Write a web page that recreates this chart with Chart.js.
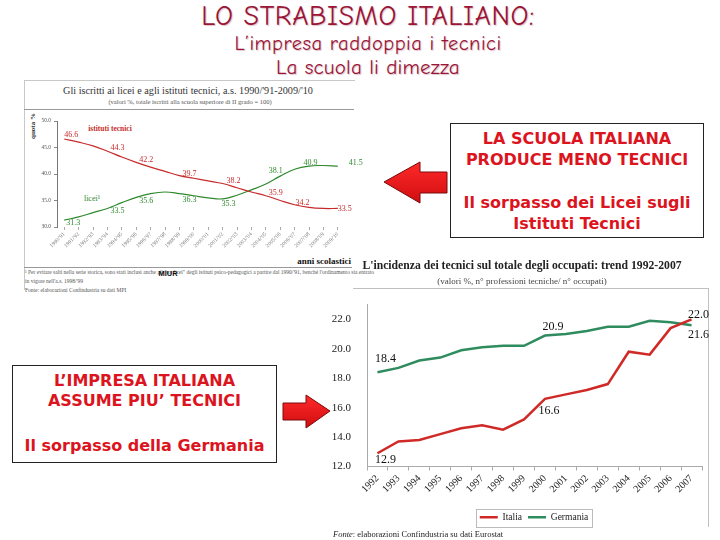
<!DOCTYPE html>
<html><head><meta charset="utf-8">
<script src="https://cdn.jsdelivr.net/npm/chart.js@4.4.1/dist/chart.umd.min.js"></script>
<style>
html,body{margin:0;padding:0;background:#fff;}
body{width:720px;height:540px;position:relative;overflow:hidden;font-family:"Liberation Serif",serif;}
.abs{position:absolute;white-space:nowrap;}
.ttl{font-family:"Comic Sans MS","Comic Neue","Lato",sans-serif;color:#9a1538;left:0;width:736px;text-align:center;text-shadow:1px 1px 1px rgba(120,20,40,0.25);}
.box{position:absolute;border:1px solid #222;background:#fff;}
.bt{position:absolute;left:0;right:0;text-align:center;font-family:"DejaVu Sans",sans-serif;font-weight:bold;color:#dc1420;font-size:16px;line-height:20px;}
.c{transform:translate(-50%,-50%);}
</style></head>
<body>
<div class="abs ttl" style="top:0px;font-size:28px;letter-spacing:0.6px;">LO STRABISMO ITALIANO:</div>
<div class="abs ttl" style="top:32px;font-size:20.5px;letter-spacing:0.5px;">L’impresa raddoppia i tecnici</div>
<div class="abs ttl" style="top:55px;font-size:21px;letter-spacing:0.2px;">La scuola li dimezza</div>

<!-- left chart frame & texts -->
<div class="abs" style="left:24px;top:80px;width:331px;height:1px;background:#c8c8c8;"></div>
<div class="abs" style="left:24px;top:80px;width:1px;height:210px;background:#c8c8c8;"></div>
<div class="abs c" style="left:188px;top:90px;font-size:10.2px;color:#333;">Gli iscritti ai licei e agli istituti tecnici, a.s. 1990/'91-2009/'10</div>
<div class="abs c" style="left:190px;top:101px;font-size:6.5px;color:#555;">(valori %, totale iscritti alla scuola superiore di II grado = 100)</div>
<div class="abs" style="left:24px;top:109px;width:330px;height:1px;background:#999;"></div>
<div class="abs c" style="left:33px;top:126px;font-size:7px;font-weight:bold;color:#333;transform:translate(-50%,-50%) rotate(-90deg);">quota %</div>
<div class="abs c" style="left:110px;top:128px;font-size:7.5px;font-weight:bold;color:#c62b2b;">istituti tecnici</div>
<div class="abs c" style="left:92px;top:198px;font-size:8px;color:#2f8a2f;">licei¹</div>
<div class="abs" style="right:369px;top:256px;font-size:9px;font-weight:bold;color:#111;">anni scolastici</div>
<div class="abs" style="left:24px;top:267px;width:328px;height:1px;background:#999;"></div>
<div class="abs" style="left:25px;top:268px;font-size:5.5px;color:#555;line-height:9px;">¹ Per evitare salti nella serie storica, sono stati inclusi anche gli "ex licei" degli istituti psico-pedagogici a partire dal 1990/'91, benché l'ordinamento sia entrato<br>in vigore nell'a.s. 1998/'99<br>Fonte: elaborazioni Confindustria su dati MPI</div>
<div class="abs c" style="left:168px;top:273px;font-size:7.5px;font-weight:bold;color:#111;font-family:'Liberation Sans',sans-serif;">MIUR</div>
<canvas id="cl" class="abs" width="345" height="165" style="left:24px;top:110px;"></canvas>

<!-- top-right box -->
<div class="box" style="left:450px;top:123px;width:252px;height:113px;">
  <div class="bt" style="top:5px;">LA SCUOLA ITALIANA</div>
  <div class="bt" style="top:26px;">PRODUCE MENO TECNICI</div>
  <div class="bt" style="top:69px;">Il sorpasso dei Licei sugli</div>
  <div class="bt" style="top:90px;">Istituti Tecnici</div>
</div>
<svg class="abs" style="left:380px;top:158px;" width="70" height="50">
  <defs><linearGradient id="g1" x1="0" y1="0" x2="0" y2="1"><stop offset="0" stop-color="#ff2a2a"/><stop offset="1" stop-color="#d00d10"/></linearGradient></defs>
  <polygon points="4,24 40,4 40,14 67,14 67,35 40,35 40,45" fill="url(#g1)" stroke="#7a0a0a" stroke-width="1"/>
</svg>

<!-- bottom-left box -->
<div class="box" style="left:12px;top:365px;width:263px;height:96px;">
  <div class="bt" style="top:5px;">L’IMPRESA ITALIANA</div>
  <div class="bt" style="top:25px;">ASSUME PIU’ TECNICI</div>
  <div class="bt" style="top:70px;">Il sorpasso della Germania</div>
</div>
<svg class="abs" style="left:280px;top:392px;" width="54" height="40">
  <defs><linearGradient id="g2" x1="0" y1="0" x2="0" y2="1"><stop offset="0" stop-color="#ff2a2a"/><stop offset="1" stop-color="#d00d10"/></linearGradient></defs>
  <polygon points="3,11 26,11 26,3 50,19 26,36 26,28 3,28" fill="url(#g2)" stroke="#7a0a0a" stroke-width="1"/>
</svg>

<!-- right chart -->
<div class="abs c" style="left:522px;top:265px;font-size:11.7px;font-weight:bold;color:#222;">L'incidenza dei tecnici sul totale degli occupati: trend 1992-2007</div>
<div class="abs c" style="left:522px;top:281px;font-size:9px;color:#444;">(valori %, n° professioni tecniche/ n° occupati)</div>
<div class="abs" style="left:353px;top:288px;width:356px;height:1px;background:#c0c0c0;"></div>
<div class="abs" style="left:708px;top:288px;width:1px;height:239px;background:#c0c0c0;"></div>
<canvas id="cr" class="abs" width="408" height="245" style="left:330px;top:290px;"></canvas>
<div class="abs" style="left:333px;top:529px;font-size:8.5px;color:#222;"><i>Fonte</i>: elaborazioni Confindustria su dati Eurostat</div>

<script>
// ---- Left chart data ----
const schoolYears = ["1990/'91","1991/'92","1992/'93","1993/'94","1994/'95","1995/'96","1996/'97","1997/'98","1998/'99","1999/'00","2000/'01","2001/'02","2002/'03","2003/'04","2004/'05","2005/'06","2006/'07","2007/'08","2008/'09","2009/'10"];
const istitutiTecnici = [46.6,46.0,45.3,44.3,43.2,42.2,41.3,40.5,39.7,39.2,38.7,38.2,37.4,36.6,35.9,35.0,34.2,33.7,33.5,33.5];
const licei = [31.3,31.9,32.7,33.5,34.6,35.6,36.3,36.6,36.3,35.9,35.5,35.3,36.0,37.0,38.1,39.6,40.9,41.5,41.6,41.5];
const leftLabeledIdx = [0,3,5,8,11,14,16,19];
const leftTicks = [30,35,40,45,50];

// ---- Right chart data ----
const years = ["1992","1993","1994","1995","1996","1997","1998","1999","2000","2001","2002","2003","2004","2005","2006","2007"];
const italia = [12.9,13.7,13.8,14.2,14.6,14.8,14.5,15.2,16.6,16.9,17.2,17.6,19.8,19.6,21.4,22.0];
const germania = [18.4,18.7,19.2,19.4,19.9,20.1,20.2,20.2,20.9,21.0,21.2,21.5,21.5,21.9,21.8,21.6];
const rightTicks = [12,14,16,18,20,22];

const valueLabels = {
  id:'valueLabels',
  afterDatasetsDraw(chart, args, opts){
    const ctx = chart.ctx;
    (opts.items||[]).forEach(it=>{
      const el = chart.getDatasetMeta(it.ds).data[it.i];
      const v = chart.data.datasets[it.ds].data[it.i];
      ctx.save();
      ctx.font = opts.font;
      ctx.fillStyle = it.color || opts.color;
      ctx.textAlign = 'center'; ctx.textBaseline = 'middle';
      ctx.fillText(v.toFixed(1), el.x + it.dx, el.y + it.dy);
      ctx.restore();
    });
  }
};
const legendFrame = {
  id:'legendFrame',
  afterDraw(chart){
    const hb = chart.legend && chart.legend.legendHitBoxes;
    if(!hb || !hb.length) return;
    let l=Infinity,t=Infinity,r=-Infinity,b=-Infinity;
    hb.forEach(h=>{l=Math.min(l,h.left);t=Math.min(t,h.top);r=Math.max(r,h.left+h.width);b=Math.max(b,h.top+h.height);});
    const ctx=chart.ctx; ctx.save(); ctx.strokeStyle='#bbb'; ctx.lineWidth=1;
    ctx.strokeRect(Math.round(l-4)+0.5, Math.round(t-4)+0.5, Math.round(r-l+8), Math.round(b-t+8)); ctx.restore();
  }
};

const RED_L='#c62b2b', GREEN_L='#2f8a2f';
const leftItems = [];
const redOff = [[7,-4],[10,-3],[10,-2],[10,-2],[11,-3],[10,-3],[8,-2],[7,0]];
const greenOff = [[9,3],[10,2],[10,4],[10,6],[6,5],[10,-13],[16,-6],[18,-3]];
leftLabeledIdx.forEach((idx,k)=>{
  leftItems.push({ds:0,i:idx,dx:redOff[k][0],dy:redOff[k][1],color:RED_L});
  leftItems.push({ds:1,i:idx,dx:greenOff[k][0],dy:greenOff[k][1],color:GREEN_L});
});

new Chart(document.getElementById('cl'), {
  type:'line',
  data:{labels:schoolYears, datasets:[
    {label:'istituti tecnici', data:istitutiTecnici, borderColor:RED_L, borderWidth:1.2, pointRadius:0, tension:0.4, fill:false},
    {label:'licei', data:licei, borderColor:GREEN_L, borderWidth:1.2, pointRadius:0, tension:0.4, fill:false}
  ]},
  options:{
    responsive:false, animation:false, devicePixelRatio:1,
    layout:{padding:{top:11,right:24,left:0,bottom:0}},
    plugins:{legend:{display:false}, tooltip:{enabled:false},
      valueLabels:{font:'8px "Liberation Serif"', items:leftItems}},
    scales:{
      x:{offset:true, grid:{display:true,drawOnChartArea:false,tickLength:3,color:'#aaa'}, border:{display:false},
         ticks:{autoSkip:false,minRotation:45,maxRotation:45,font:{size:5.5,family:'Liberation Serif'},color:'#777',padding:1},
         afterFit:s=>{s.height=48;}},
      y:{min:30,max:50, afterBuildTicks:s=>{s.ticks=leftTicks.map(v=>({value:v}));},
         ticks:{callback:v=>v.toFixed(1),font:{size:5.5,family:'Liberation Serif'},color:'#555',padding:3},
         grid:{display:true,drawOnChartArea:false,tickLength:3,color:'#888'}, border:{display:true,color:'#777'},
         afterFit:s=>{s.width=33;}}
    }
  },
  plugins:[valueLabels]
});

const RED_R='#cf2a27', GREEN_R='#2f8c5f';
new Chart(document.getElementById('cr'), {
  type:'line',
  data:{labels:years, datasets:[
    {label:'Italia', data:italia, borderColor:RED_R, backgroundColor:RED_R, borderWidth:2.5, pointRadius:0, tension:0, fill:false},
    {label:'Germania', data:germania, borderColor:GREEN_R, backgroundColor:GREEN_R, borderWidth:2.5, pointRadius:0, tension:0, fill:false}
  ]},
  options:{
    responsive:false, animation:false, devicePixelRatio:1,
    layout:{padding:{top:14,right:0,left:0,bottom:3}},
    plugins:{
      legend:{position:'bottom', labels:{usePointStyle:true,pointStyle:'line',pointStyleWidth:18,boxHeight:8,padding:6,
        font:{size:9.5,family:'Liberation Serif'},color:'#222'}},
      tooltip:{enabled:false},
      valueLabels:{font:'12px "Liberation Serif"', color:'#111', items:[
        {ds:1,i:0,dx:8,dy:-13},{ds:0,i:0,dx:8,dy:7},
        {ds:1,i:8,dx:8,dy:-9},{ds:0,i:8,dx:4,dy:12},
        {ds:0,i:15,dx:7,dy:-4},{ds:1,i:15,dx:7,dy:10}
      ]}
    },
    scales:{
      x:{offset:true, grid:{display:true,offset:true,drawOnChartArea:false,tickLength:4,color:'#aaa'}, border:{display:true,color:'#aaa'},
         ticks:{autoSkip:false,minRotation:45,maxRotation:45,font:{size:10,family:'Liberation Serif'},color:'#222',padding:2},
         afterFit:s=>{s.height=40;}},
      y:{min:12,max:23, afterBuildTicks:s=>{s.ticks=rightTicks.map(v=>({value:v}));},
         ticks:{callback:v=>v.toFixed(1),font:{size:11,family:'Liberation Serif'},color:'#222',padding:8},
         grid:{display:false}, border:{display:true,color:'#aaa'},
         afterFit:s=>{s.width=37;}},
      ySpacer:{position:'right', display:true, grid:{display:false}, border:{display:false}, ticks:{display:false},
         afterFit:s=>{s.width=36;}}
    }
  },
  plugins:[valueLabels, legendFrame]
});
</script>
</body></html>
